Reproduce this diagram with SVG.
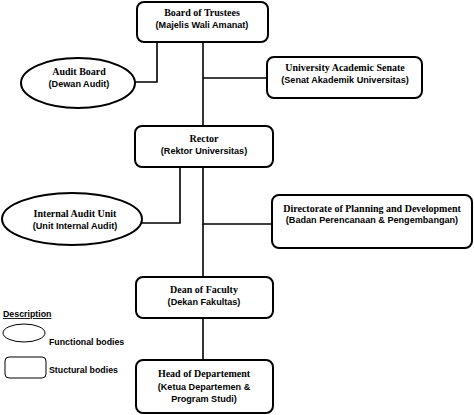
<svg xmlns="http://www.w3.org/2000/svg" width="474" height="415" viewBox="0 0 474 415">
<style>
.box{fill:#fff;stroke:#000;stroke-width:2}
.ell{fill:#fff;stroke:#000;stroke-width:2}
.t{font-family:"Liberation Serif",serif;font-weight:bold;font-size:10px;text-anchor:middle;fill:#000}
.s{font-family:"Liberation Sans",Arial,sans-serif;font-weight:bold;font-size:9.1px;text-anchor:middle;fill:#000}
.l{font-family:"Liberation Sans",Arial,sans-serif;font-weight:bold;font-size:8.8px;fill:#000}
.c{fill:none;stroke:#000;stroke-width:1.6}
</style>
<rect width="474" height="415" fill="#fff"/>
<g id="connectors">
<polyline class="c" points="157,42 157,82 135,82"/>
<polyline class="c" points="203,78 267,78"/>
<line class="c" x1="203" y1="42" x2="203" y2="126"/>
<polyline class="c" points="180,167 180,223 142,223"/>
<polyline class="c" points="203,167 203,224 272,224"/>
<line class="c" x1="203" y1="224" x2="203" y2="277"/>
<line class="c" x1="203" y1="318" x2="203" y2="360"/>
</g>
<g id="board">
<rect class="box" x="137" y="2" width="131" height="40" rx="7"/>
<text class="t" x="202" y="16">Board of Trustees</text>
<text class="s" x="202" y="28">(Majelis Wali Amanat)</text>
</g>
<g id="audit-board">
<ellipse class="ell" cx="78" cy="83" rx="57" ry="25"/>
<text class="t" x="79" y="75">Audit Board</text>
<text class="s" x="79" y="87">(Dewan Audit)</text>
</g>
<g id="senate">
<rect class="box" x="267" y="57" width="155" height="41" rx="7"/>
<text class="t" x="345" y="71">University Academic Senate</text>
<text class="s" x="345" y="83">(Senat Akademik Universitas)</text>
</g>
<g id="rector">
<rect class="box" x="135" y="126" width="138" height="41" rx="7"/>
<text class="t" x="204" y="142">Rector</text>
<text class="s" x="204" y="154">(Rektor Universitas)</text>
</g>
<g id="internal-audit">
<ellipse class="ell" cx="72" cy="219" rx="70" ry="26"/>
<text class="t" x="75" y="217">Internal Audit Unit</text>
<text class="s" x="75" y="229">(Unit Internal Audit)</text>
</g>
<g id="directorate">
<rect class="box" x="272" y="195" width="200" height="53" rx="7"/>
<text class="t" x="372" y="212">Directorate of Planning and Development</text>
<text class="s" x="372" y="223">(Badan Perencanaan &amp; Pengembangan)</text>
</g>
<g id="dean">
<rect class="box" x="136" y="277" width="137" height="41" rx="7"/>
<text class="t" x="204" y="293">Dean of Faculty</text>
<text class="s" x="204" y="305">(Dekan Fakultas)</text>
</g>
<g id="head">
<rect class="box" x="136" y="360" width="137" height="53" rx="7"/>
<text class="t" x="204" y="377">Head of Departement</text>
<text class="s" x="204" y="390">(Ketua Departemen &amp;</text>
<text class="s" x="204" y="402">Program Studi)</text>
</g>
<g id="legend">
<text class="l" x="3" y="317" text-decoration="underline">Description</text>
<ellipse cx="24" cy="333" rx="21" ry="9" fill="#fff" stroke="#000" stroke-width="1"/>
<text class="l" x="49" y="345">Functional bodies</text>
<rect x="5" y="357" width="41" height="21" rx="4" fill="#fff" stroke="#000" stroke-width="1"/>
<text class="l" x="49" y="373">Stuctural bodies</text>
</g>
</svg>
